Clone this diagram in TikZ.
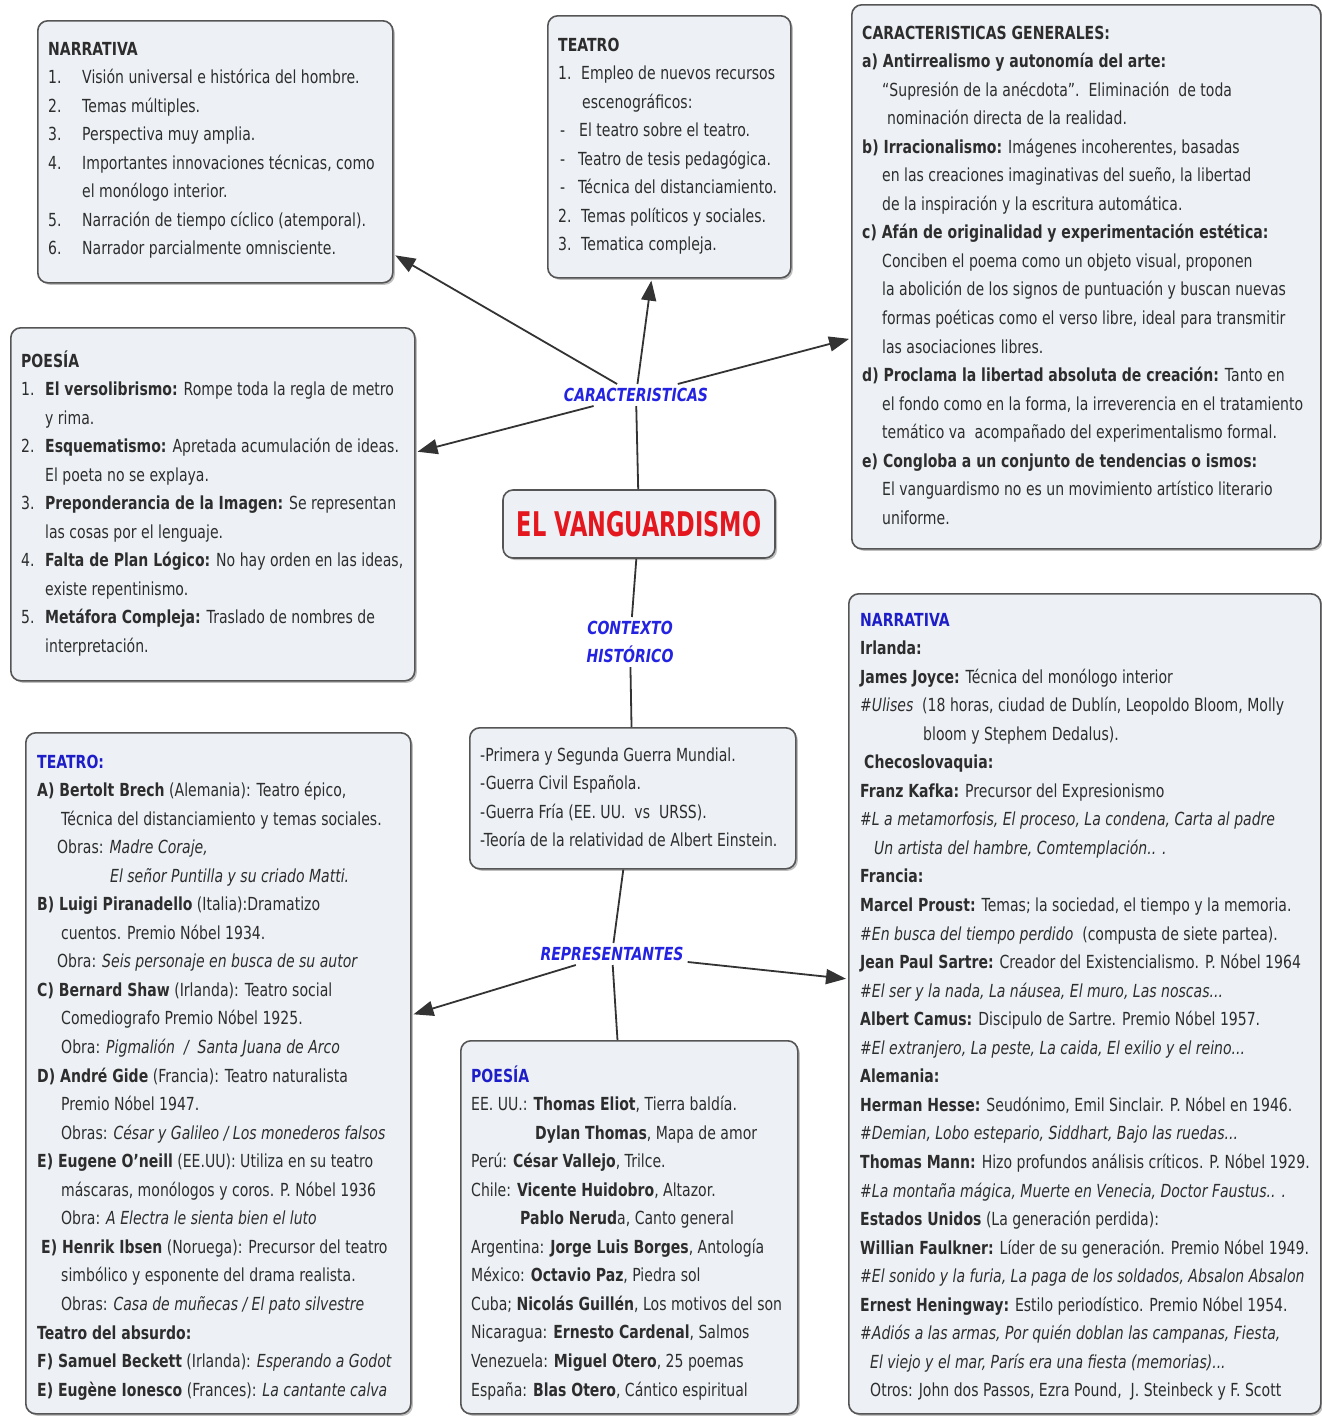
\documentclass[tikz,border=0pt]{standalone}
\usepackage{fontspec}
\setmainfont{DejaVu Sans}[FakeStretch=0.78]
\newfontfamily\titlefont{DejaVu Sans}[FakeStretch=0.66]
\usetikzlibrary{arrows.meta,shadows}
\definecolor{boxfill}{RGB}{237,241,245}
\definecolor{boxline}{RGB}{85,85,85}
\definecolor{txt}{RGB}{45,45,45}
\definecolor{labblue}{RGB}{35,35,225}
\definecolor{ttlblue}{RGB}{30,30,200}
\definecolor{vred}{RGB}{228,22,30}
\newcommand{\tb}[1]{\parbox[t]{700pt}{\raggedright\fontsize{18}{28.55}\selectfont\leavevmode\color{txt}#1}}
\newcommand{\nm}[2][34pt]{\makebox[#1][l]{#2}}
\begin{document}
\begin{tikzpicture}[x=1pt,y=-1pt,
  box/.style={rectangle, rounded corners=10pt, draw=boxline, line width=1.6pt, fill=boxfill, anchor=north west, inner sep=0pt, drop shadow={shadow xshift=2pt, shadow yshift=-2pt, fill=black!50}},
  txtnode/.style={anchor=base west, inner sep=0pt},
  lab/.style={font=\bfseries\itshape\fontsize{18}{28}\selectfont, text=labblue, inner sep=4pt, align=center},
  conn/.style={draw=black!80, line width=1.8pt},
  arr/.style={conn, -{Triangle[length=20pt,width=15pt]}, shorten >=2pt}]
\useasboundingbox[fill=white] (0,0) rectangle (1322,1417);

% boxes
\node[box, minimum width=355pt, minimum height=262pt] (nar1) at (37,20) {};
\node[box, minimum width=243pt, minimum height=262pt] (tea1) at (547,15) {};
\node[box, minimum width=469pt, minimum height=544pt] (cg) at (851,4) {};
\node[box, minimum width=404pt, minimum height=353pt] (poe1) at (10,327) {};
\node[box, anchor=center, minimum width=272pt, minimum height=68pt] (vang) at (639,524)
  {\titlefont\bfseries\fontsize{34}{34}\selectfont\color{vred}EL VANGUARDISMO};
\node[box, minimum width=326pt, minimum height=141pt] (ctx) at (469,727) {};
\node[box, minimum width=385pt, minimum height=681pt] (tea2) at (25,732) {};
\node[box, minimum width=337pt, minimum height=373pt] (poe2) at (460,1040) {};
\node[box, minimum width=472pt, minimum height=820pt] (nar2) at (848,593) {};

% linking labels
\node[lab] (carac) at (636,395) {CARACTERISTICAS};
\node[lab] (ctxl) at (630,642) {CONTEXTO\\HISTÓRICO};
\node[lab] (repr) at (612,954) {REPRESENTANTES};

% texts
\node[txtnode] (nar1t) at (48,55) {\tb{%
\textbf{NARRATIVA}\\
\nm{1.}Visión universal e histórica del hombre.\\
\nm{2.}Temas múltiples.\\
\nm{3.}Perspectiva muy amplia.\\
\nm{4.}Importantes innovaciones técnicas, como\\
\hspace*{34pt}el monólogo interior.\\
\nm{5.}Narración de tiempo cíclico (atemporal).\\
\nm{6.}Narrador parcialmente omnisciente.}};

\node[txtnode] (tea1t) at (558,51) {\tb{%
\textbf{TEATRO}\\
\nm[23pt]{1.}Empleo de nuevos recursos\\
\hspace*{24pt}escenográficos:\\
\nm[21pt]{\hspace*{2pt}-}El teatro sobre el teatro.\\
\nm[20pt]{\hspace*{2pt}-}Teatro de tesis pedagógica.\\
\nm[20pt]{\hspace*{2pt}-}Técnica del distanciamiento.\\
\nm[23pt]{2.}Temas políticos y sociales.\\
\nm[23pt]{3.}Tematica compleja.}};

\node[txtnode] (cgt) at (862,39) {\tb{%
\textbf{CARACTERISTICAS GENERALES:}\\
\textbf{a) Antirrealismo y autonomía del arte:}\\
\hspace*{20pt}“Supresión de la anécdota”.\ \ Eliminación\ \ de toda\\
\hspace*{25pt}nominación directa de la realidad.\\
\textbf{b) Irracionalismo:} Imágenes incoherentes, basadas\\
\hspace*{20pt}en las creaciones imaginativas del sueño, la libertad\\
\hspace*{20pt}de la inspiración y la escritura automática.\\
\textbf{c) Afán de originalidad y experimentación estética:}\\
\hspace*{20pt}Conciben el poema como un objeto visual, proponen\\
\hspace*{20pt}la abolición de los signos de puntuación y buscan nuevas\\
\hspace*{20pt}formas poéticas como el verso libre, ideal para transmitir\\
\hspace*{20pt}las asociaciones libres.\\
\textbf{d) Proclama la libertad absoluta de creación:} Tanto en\\
\hspace*{20pt}el fondo como en la forma, la irreverencia en el tratamiento\\
\hspace*{20pt}temático va\ \ acompañado del experimentalismo formal.\\
\textbf{e) Congloba a un conjunto de tendencias o ismos:}\\
\hspace*{20pt}El vanguardismo no es un movimiento artístico literario\\
\hspace*{20pt}uniforme.}};

\node[txtnode] (poe1t) at (21,367) {\tb{%
\textbf{POESÍA}\\
\nm[24pt]{1.}\textbf{El versolibrismo:} Rompe toda la regla de metro\\
\hspace*{24pt}y rima.\\
\nm[24pt]{2.}\textbf{Esquematismo:} Apretada acumulación de ideas.\\
\hspace*{24pt}El poeta no se explaya.\\
\nm[24pt]{3.}\textbf{Preponderancia de la Imagen:} Se representan\\
\hspace*{24pt}las cosas por el lenguaje.\\
\nm[24pt]{4.}\textbf{Falta de Plan Lógico:} No hay orden en las ideas,\\
\hspace*{24pt}existe repentinismo.\\
\nm[24pt]{5.}\textbf{Metáfora Compleja:} Traslado de nombres de\\
\hspace*{24pt}interpretación.}};

\node[txtnode] (ctxt) at (480,761) {\tb{%
-Primera y Segunda Guerra Mundial.\\
-Guerra Civil Española.\\
-Guerra Fría (EE. UU.\ \ vs\ \ URSS).\\
-Teoría de la relatividad de Albert Einstein.}};

\node[txtnode] (tea2t) at (37,768) {\tb{%
{\color{ttlblue}\textbf{TEATRO:}}\\
\textbf{A) Bertolt Brech} (Alemania): Teatro épico,\\
\hspace*{24pt}Técnica del distanciamiento y temas sociales.\\
\hspace*{20pt}Obras: \textit{Madre Coraje,}\\
\hspace*{73pt}\textit{El señor Puntilla y su criado Matti.}\\
\textbf{B) Luigi Piranadello} (Italia):Dramatizo\\
\hspace*{24pt}cuentos. Premio Nóbel 1934.\\
\hspace*{20pt}Obra: \textit{Seis personaje en busca de su autor}\\
\textbf{C) Bernard Shaw} (Irlanda): Teatro social\\
\hspace*{24pt}Comediografo Premio Nóbel 1925.\\
\hspace*{24pt}Obra: \textit{Pigmalión\ \ /\ \ Santa Juana de Arco}\\
\textbf{D) André Gide} (Francia): Teatro naturalista\\
\hspace*{24pt}Premio Nóbel 1947.\\
\hspace*{24pt}Obras: \textit{César y Galileo / Los monederos falsos}\\
\textbf{E) Eugene O'neill} (EE.UU): Utiliza en su teatro\\
\hspace*{24pt}máscaras, monólogos y coros. P. Nóbel 1936\\
\hspace*{24pt}Obra: \textit{A Electra le sienta bien el luto}\\
\hspace*{4pt}\textbf{E) Henrik Ibsen} (Noruega): Precursor del teatro\\
\hspace*{24pt}simbólico y esponente del drama realista.\\
\hspace*{24pt}Obras: \textit{Casa de muñecas / El pato silvestre}\\
\textbf{Teatro del absurdo:}\\
\textbf{F) Samuel Beckett} (Irlanda): \textit{Esperando a Godot}\\
\textbf{E) Eugène Ionesco} (Frances): \textit{La cantante calva}}};

\node[txtnode] (poe2t) at (471,1082) {\tb{%
{\color{ttlblue}\textbf{POESÍA}}\\
EE. UU.: \textbf{Thomas Eliot}, Tierra baldía.\\
\hspace*{64pt}\textbf{Dylan Thomas}, Mapa de amor\\
Perú: \textbf{César Vallejo}, Trilce.\\
Chile: \textbf{Vicente Huidobro}, Altazor.\\
\hspace*{49pt}\textbf{Pablo Nerud}a, Canto general\\
Argentina: \textbf{Jorge Luis Borges}, Antología\\
México: \textbf{Octavio Paz}, Piedra sol\\
Cuba; \textbf{Nicolás Guillén}, Los motivos del son\\
Nicaragua: \textbf{Ernesto Cardenal}, Salmos\\
Venezuela: \textbf{Miguel Otero}, 25 poemas\\
España: \textbf{Blas Otero}, Cántico espiritual}};

\node[txtnode] (nar2t) at (860,626) {\tb{%
{\color{ttlblue}\textbf{NARRATIVA}}\\
\textbf{Irlanda:}\\
\textbf{James Joyce:} Técnica del monólogo interior\\
\textit{\#Ulises}\ \ (18 horas, ciudad de Dublín, Leopoldo Bloom, Molly\\
\hspace*{63pt}bloom y Stephem Dedalus).\\
\hspace*{4pt}\textbf{Checoslovaquia:}\\
\textbf{Franz Kafka:} Precursor del Expresionismo\\
\textit{\#L a metamorfosis, El proceso, La condena, Carta al padre}\\
\hspace*{14pt}\textit{Un artista del hambre, Comtemplación.. .}\\
\textbf{Francia:}\\
\textbf{Marcel Proust:} Temas; la sociedad, el tiempo y la memoria.\\
\textit{\#En busca del tiempo perdido}\ \ (compusta de siete partea).\\
\textbf{Jean Paul Sartre:} Creador del Existencialismo. P. Nóbel 1964\\
\textit{\#El ser y la nada, La náusea, El muro, Las noscas...}\\
\textbf{Albert Camus:} Discipulo de Sartre. Premio Nóbel 1957.\\
\textit{\#El extranjero, La peste, La caida, El exilio y el reino...}\\
\textbf{Alemania:}\\
\textbf{Herman Hesse:} Seudónimo, Emil Sinclair. P. Nóbel en 1946.\\
\textit{\#Demian, Lobo estepario, Siddhart, Bajo las ruedas...}\\
\textbf{Thomas Mann:} Hizo profundos análisis críticos. P. Nóbel 1929.\\
\textit{\#La montaña mágica, Muerte en Venecia, Doctor Faustus.. .}\\
\textbf{Estados Unidos} (La generación perdida):\\
\textbf{Willian Faulkner:} Líder de su generación. Premio Nóbel 1949.\\
\textit{\#El sonido y la furia, La paga de los soldados, Absalon Absalon}\\
\textbf{Ernest Heningway:} Estilo periodístico. Premio Nóbel 1954.\\
\textit{\#Adiós a las armas, Por quién doblan las campanas, Fiesta,}\\
\hspace*{10pt}\textit{El viejo y el mar, París era una fiesta (memorias)...}\\
\hspace*{10pt}Otros: John dos Passos, Ezra Pound,\ \ J. Steinbeck y F. Scott}};

% connectors
\draw[conn] (vang) -- (carac);
\draw[arr] (carac) -- (nar1);
\draw[arr] (carac) -- (tea1);
\draw[arr] (carac) -- (cg);
\draw[arr] (carac) -- (poe1);
\draw[conn] (vang) -- (ctxl);
\draw[conn] (ctxl) -- (ctx);
\draw[conn] (ctx) -- (repr);
\draw[arr] (repr) -- (tea2);
\draw[arr] (repr) -- (nar2);
\draw[conn] (repr) -- (poe2);
\end{tikzpicture}
\end{document}
